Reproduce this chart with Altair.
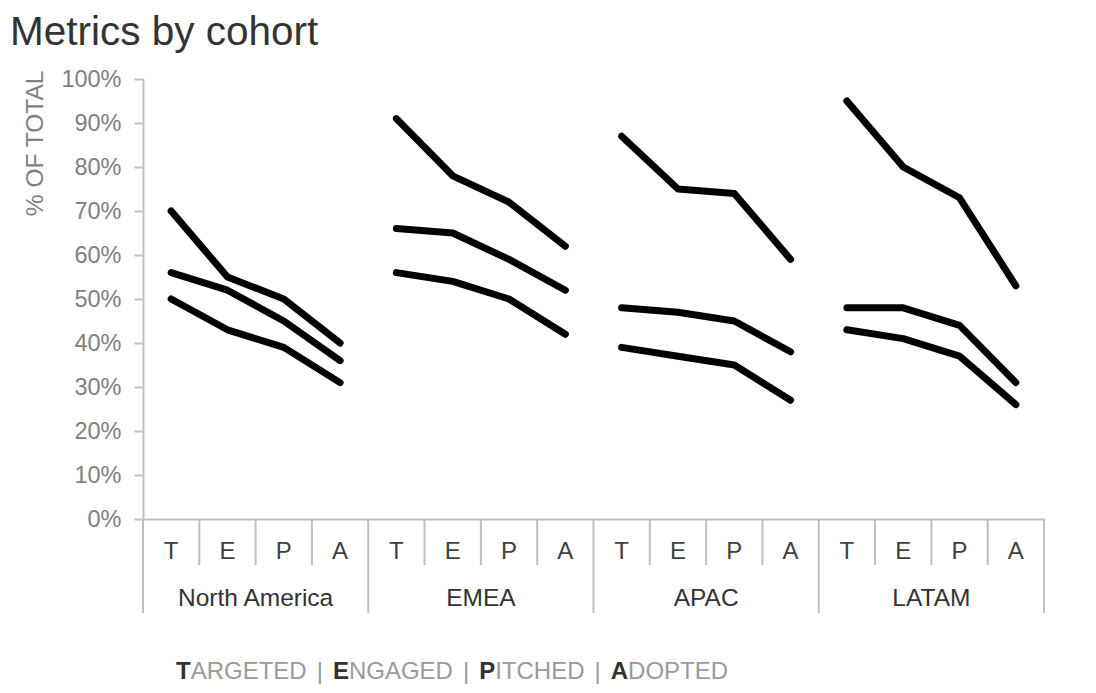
import altair as alt
import pandas as pd

# ---- data ----
regions = ["North America", "EMEA", "APAC", "LATAM"]
stages = ["T", "E", "P", "A"]
series_names = ["Series 1", "Series 2", "Series 3"]
na_vals = [[70, 55, 50, 40], [56, 52, 45, 36], [50, 43, 39, 31]]
emea_vals = [[91, 78, 72, 62], [66, 65, 59, 52], [56, 54, 50, 42]]
apac_vals = [[87, 75, 74, 59], [48, 47, 45, 38], [39, 37, 35, 27]]
latam_vals = [[95, 80, 73, 53], [48, 48, 44, 31], [43, 41, 37, 26]]
footer_parts = [("T", True), ("ARGETED", False), ("|", False), ("E", True), ("NGAGED", False),
                ("|", False), ("P", True), ("ITCHED", False), ("|", False), ("A", True), ("DOPTED", False)]

all_vals = [na_vals, emea_vals, apac_vals, latam_vals]
rows = []
for r_i, (reg, vals) in enumerate(zip(regions, all_vals)):
    for s_i, sname in enumerate(series_names):
        for k, st in enumerate(stages):
            rows.append({"region": reg, "series": sname, "stage": st,
                         "key": f"{reg}-{sname}",
                         "pos": r_i * 4 + k + 0.5, "value": vals[s_i][k] / 100})
df = pd.DataFrame(rows)

cat_df = pd.DataFrame([{"pos": r_i * 4 + k + 0.5, "label": st}
                       for r_i in range(len(regions)) for k, st in enumerate(stages)])
reg_df = pd.DataFrame([{"pos": r_i * 4 + 2, "label": reg} for r_i, reg in enumerate(regions)])
minor_df = pd.DataFrame({"b": [b for b in range(17) if b % 4 != 0]})
major_df = pd.DataFrame({"b": [b for b in range(17) if b % 4 == 0]})

W, H = 901, 440
FONT = "Liberation Sans"
AXIS_GRAY = "#bfbfbf"

xscale = alt.Scale(domain=[0, 16], nice=False, zero=False)
yscale = alt.Scale(domain=[0, 1], nice=False)

lines = alt.Chart(df).mark_line(color="black", strokeWidth=7, strokeCap="round",
                                strokeJoin="round").encode(
    x=alt.X("pos:Q", scale=xscale,
            axis=alt.Axis(labels=False, ticks=False, grid=False, title=None,
                          domainColor=AXIS_GRAY, domainWidth=2)),
    y=alt.Y("value:Q", scale=yscale,
            axis=alt.Axis(values=[i / 10 for i in range(11)], format=".0%", grid=False,
                          title="% OF TOTAL", titleFont=FONT, titleFontSize=24.5,
                          titleFontWeight="normal", titleColor="#808080",
                          titleAngle=270, titleAlign="right", titleBaseline="middle",
                          titleX=-108, titleY=-9,
                          labelFont=FONT, labelFontSize=23.5, labelColor="#808080",
                          labelPadding=13, tickSize=9, tickColor=AXIS_GRAY, tickWidth=2,
                          domainColor=AXIS_GRAY, domainWidth=2)),
    detail="key:N",
)

minor = alt.Chart(minor_df).mark_rule(color=AXIS_GRAY, strokeWidth=2).encode(
    x=alt.X("b:Q", scale=xscale), y=alt.value(H), y2=alt.value(H + 46))
major = alt.Chart(major_df).mark_rule(color=AXIS_GRAY, strokeWidth=2).encode(
    x=alt.X("b:Q", scale=xscale), y=alt.value(H), y2=alt.value(H + 94))

cat_text = alt.Chart(cat_df).mark_text(font=FONT, fontSize=24, color="#404040",
                                       baseline="middle").encode(
    x=alt.X("pos:Q", scale=xscale), y=alt.value(H + 33), text="label:N")
reg_text = alt.Chart(reg_df).mark_text(font=FONT, fontSize=24.5, color="#333333",
                                       baseline="middle").encode(
    x=alt.X("pos:Q", scale=xscale), y=alt.value(H + 80), text="label:N")

# footer: rich text built from segments, widths from Arial/Liberation metrics
reg_w = {" ": 278, "|": 260, "A": 667, "C": 722, "D": 722, "E": 667, "G": 778, "H": 722,
         "I": 278, "N": 722, "O": 778, "P": 667, "R": 722, "T": 611}
bold_w = {"T": 611, "E": 667, "P": 667, "A": 722}
FS = 24
GAP = 10
x = 33
foot_layers = []
prev = None
for text, bold in footer_parts:
    if prev is not None and (text == "|" or prev == "|"):
        x += GAP
    w = sum((bold_w if bold else reg_w)[c] for c in text) * FS / 1000
    foot_layers.append(
        alt.Chart(pd.DataFrame({"t": [text]})).mark_text(
            font=FONT, fontSize=FS, align="left", baseline="alphabetic",
            fontWeight="bold" if bold else "normal",
            color="#333333" if bold else "#9a9a9a").encode(
            x=alt.value(x), y=alt.value(H + 160), text="t:N"))
    x += w
    prev = text

chart = alt.layer(minor, major, lines, cat_text, reg_text, *foot_layers).properties(
    width=W, height=H,
    title=alt.Title("Metrics by cohort", anchor="start", frame="group", dx=-133,
                    offset=14, font=FONT, fontSize=40.5, fontWeight="normal",
                    color="#333333"),
    autosize=alt.AutoSizeParams(type="none"),
    padding={"left": 135, "top": 71, "right": 44, "bottom": 166},
).configure_view(stroke=None)

chart.save("out.html", embed_options={"renderer": "svg", "actions": False})
